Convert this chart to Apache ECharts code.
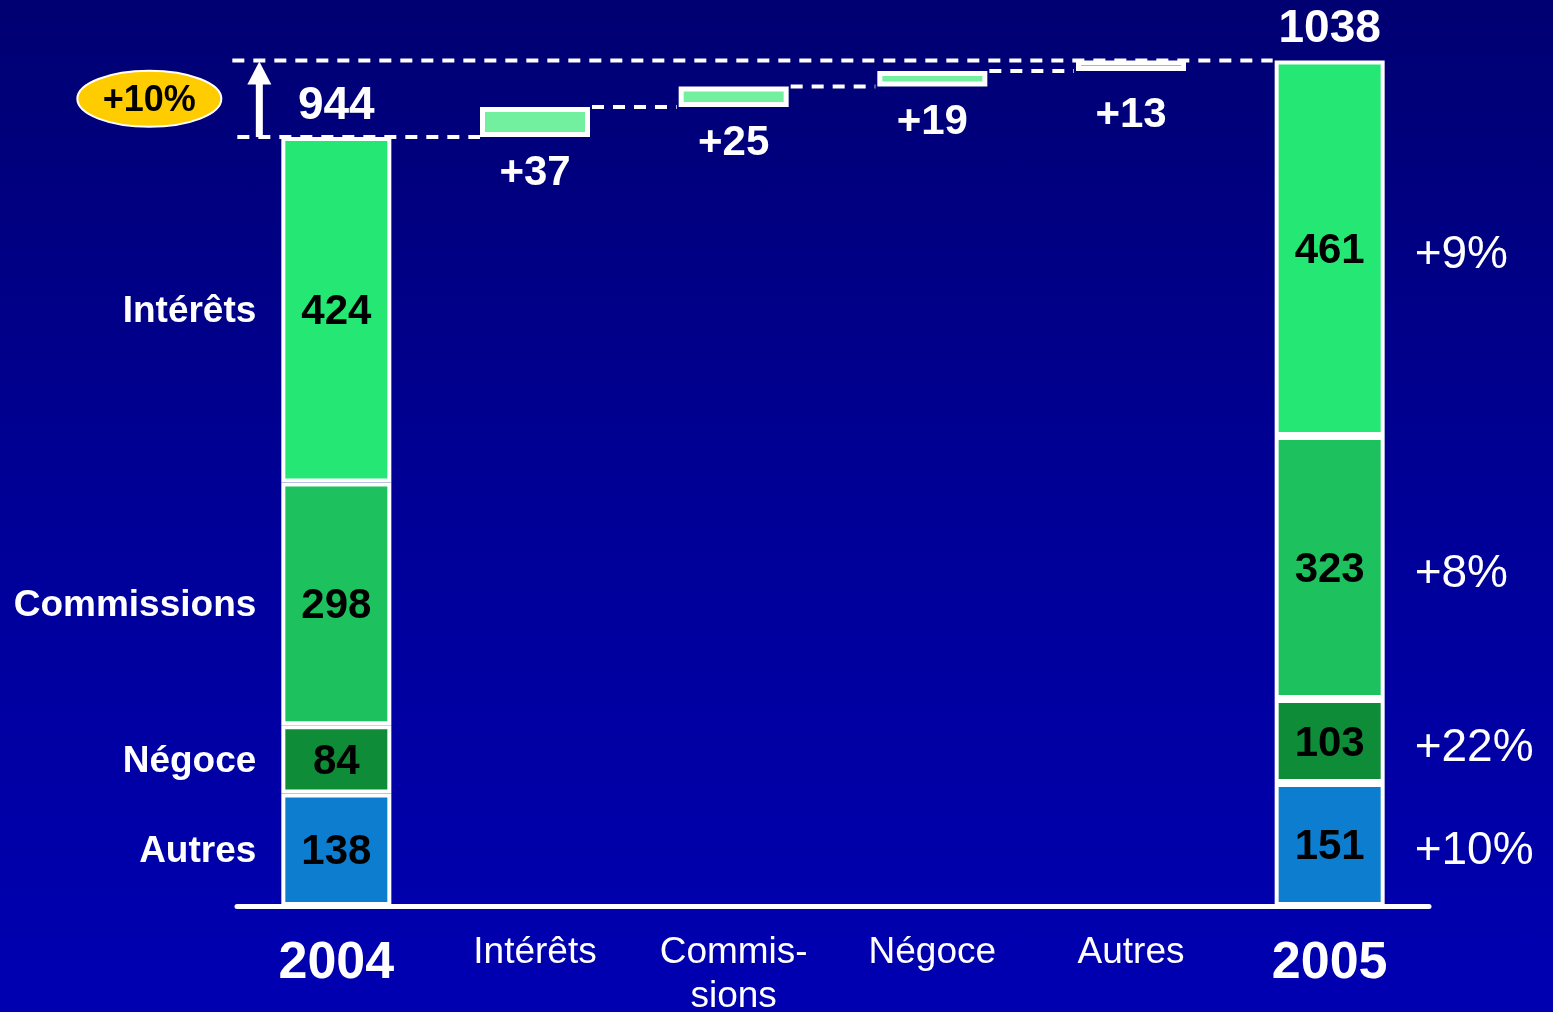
<!DOCTYPE html>
<html>
<head>
<meta charset="utf-8">
<title>Produit net bancaire 2004-2005</title>
<script src="https://cdn.jsdelivr.net/npm/echarts@6/dist/echarts.min.js"></script>
<style>
html,body{margin:0;padding:0;}
#chart{width:1553px;height:1012px;background:linear-gradient(to bottom,#000072 0%,#00009a 55%,#0000b2 100%);}
</style>
</head>
<body>
<div id="chart"></div>
<script>
// categories on the x axis
var categories = ['2004', 'Intérêts', 'Commis-\nsions', 'Négoce', 'Autres', '2005'];
// segment names, bottom to top
var segNames = ['Autres', 'Négoce', 'Commissions', 'Intérêts'];
var seg2004 = [138, 84, 298, 424];
var seg2005 = [151, 103, 323, 461];
// increments, in category order 1..4
var increments = [37, 25, 19, 13];
var segGrowth = ['+10%', '+22%', '+8%', '+9%'];
var totalGrowth = '+10%';

var FONT = '"Liberation Sans", Arial, sans-serif';
var segColors = ['#0d7ecf', '#0f8c38', '#1dc25e', '#25e774'];
var incColors = ['#72f0a0', '#72f0a0', '#72f0a0', '#0d7ecf'];
var BAR_W = 110;

var total2004 = seg2004.reduce(function (a, b) { return a + b }, 0);
var total2005 = seg2005.reduce(function (a, b) { return a + b }, 0);

// invisible base under each increment
var base = [0];
var run = total2004;
for (var i = 0; i < increments.length; i++) {
    base.push(run);
    run += increments[i];
}
base.push(0);

var series = [];
series.push({
    name: 'base', type: 'bar', stack: 'w', barWidth: BAR_W, silent: true,
    itemStyle: { color: 'transparent', borderWidth: 0 },
    data: base
});
segNames.forEach(function (n, k) {
    var d = categories.map(function (c, i) {
        if (i === 0) return seg2004[k];
        if (i === categories.length - 1) return seg2005[k];
        return '-';
    });
    series.push({
        name: n, type: 'bar', stack: 'w', barWidth: BAR_W,
        itemStyle: { color: segColors[k], borderColor: '#fff', borderWidth: 4 },
        label: { show: true, position: 'inside', offset: [0, 3], color: '#000', fontSize: 42, fontWeight: 'bold', fontFamily: FONT },
        data: d
    });
});
series.push({
    name: 'variation', type: 'bar', stack: 'w', barWidth: BAR_W,
    itemStyle: { borderColor: '#fff', borderWidth: 5 },
    label: {
        show: true, position: 'bottom', distance: 15, color: '#fff', fontSize: 42, fontWeight: 'bold',
        fontFamily: FONT, formatter: function (p) { return '+' + p.value }
    },
    data: categories.map(function (c, i) {
        if (i === 0 || i === categories.length - 1) return '-';
        var item = { value: increments[i - 1], itemStyle: { color: incColors[i - 1] } };
        if (i === 4) item.label = { distance: 23 };
        return item;
    })
});

// dashed connectors, arrow, ellipse, side texts, totals
series.push({
    type: 'custom', silent: true, z: 5,
    data: [[0, 0]],
    renderItem: function (params, api) {
        var half = BAR_W / 2;
        var last = categories.length - 1;
        var kids = [];
        var dash = { stroke: '#fff', lineWidth: 4, lineDash: [12, 9] };
        var x0 = api.coord([0, 0])[0];
        var x5 = api.coord([last, 0])[0];
        var y944 = api.coord([0, total2004])[1];
        var yTop = api.coord([0, total2005])[1];
        // top line
        kids.push({ type: 'line', shape: { x1: x0 - 104, y1: yTop, x2: x5 - half - 2, y2: yTop }, style: dash });
        // 2004 level
        kids.push({ type: 'line', shape: { x1: x0 - 99, y1: y944, x2: api.coord([1, 0])[0] - half, y2: y944 }, style: dash });
        for (var i = 1; i < last - 1; i++) {
            var lv = base[i] + increments[i - 1];
            var y = api.coord([i, lv])[1];
            kids.push({ type: 'line', shape: { x1: api.coord([i, 0])[0] + half + 2, y1: y, x2: api.coord([i + 1, 0])[0] - half - 2, y2: y }, style: dash });
        }
        // arrow
        var ax = x0 - 77;
        kids.push({ type: 'line', shape: { x1: ax, y1: y944, x2: ax, y2: yTop + 20 }, style: { stroke: '#fff', lineWidth: 7 } });
        kids.push({ type: 'polygon', shape: { points: [[ax, yTop + 1], [ax - 12, yTop + 24], [ax + 12, yTop + 24]] }, style: { fill: '#fff' } });
        // ellipse
        var ey = (y944 + yTop) / 2;
        kids.push({ type: 'ellipse', shape: { cx: ax - 110, cy: ey, rx: 72, ry: 28 }, style: { fill: '#ffcc00', stroke: '#fff', lineWidth: 2 } });
        kids.push({ type: 'text', style: { text: totalGrowth, x: ax - 110, y: ey + 2, fill: '#000', font: 'bold 36px ' + FONT, align: 'center', verticalAlign: 'middle' } });
        // totals
        kids.push({ type: 'text', style: { text: String(total2004), x: x0, y: y944 - 31, fill: '#fff', font: 'bold 46px ' + FONT, align: 'center', verticalAlign: 'middle' } });
        kids.push({ type: 'text', style: { text: String(total2005), x: x5, y: yTop - 31, fill: '#fff', font: 'bold 46px ' + FONT, align: 'center', verticalAlign: 'middle' } });
        // segment names and growth
        var c4 = 0, c5 = 0;
        for (var k = 0; k < segNames.length; k++) {
            var m4 = api.coord([0, c4 + seg2004[k] / 2])[1];
            var m5 = api.coord([last, c5 + seg2005[k] / 2])[1];
            c4 += seg2004[k];
            c5 += seg2005[k];
            kids.push({ type: 'text', style: { text: segNames[k], x: x0 - 80, y: m4 + 2, fill: '#fff', font: 'bold 37px ' + FONT, align: 'right', verticalAlign: 'middle' } });
            kids.push({ type: 'text', style: { text: segGrowth[k], x: x5 + 85, y: m5 + 7, fill: '#fff', font: '46px ' + FONT, align: 'left', verticalAlign: 'middle' } });
        }
        return { type: 'group', children: kids };
    }
});

var chart = echarts.init(document.getElementById('chart'));
chart.setOption({
    backgroundColor: 'transparent',
    animation: false,
    grid: { left: 237, right: 124, top: 10, bottom: 106, outerBoundsMode: 'none', containLabel: false },
    xAxis: {
        type: 'category', data: categories,
        axisLine: { lineStyle: { color: '#fff', width: 5 } },
        axisTick: { show: false },
        axisLabel: {
            interval: 0, margin: 25,
            formatter: function (v, i) {
                if (i === 0 || i === categories.length - 1) return '{y|' + v + '}';
                return v.split('\n').map(function (s) { return '{c|' + s + '}' }).join('\n');
            },
            rich: {
                y: { fontSize: 52, fontWeight: 'bold', color: '#fff', lineHeight: 66, fontFamily: FONT },
                c: { fontSize: 37, color: '#fff', lineHeight: 44, fontFamily: FONT }
            }
        }
    },
    yAxis: { type: 'value', min: 0, max: 1100, show: false, splitLine: { show: false } },
    series: series
});
</script>
</body>
</html>
